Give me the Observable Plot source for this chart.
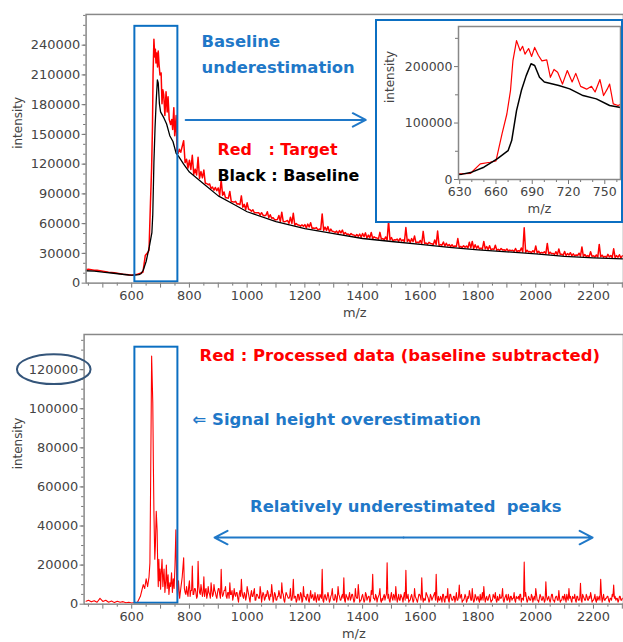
<!DOCTYPE html>
<html><head><meta charset="utf-8">
<script src="https://cdn.jsdelivr.net/npm/d3@7"></script>
<script src="https://cdn.jsdelivr.net/npm/@observablehq/plot@0.6"></script>
<style>
body{margin:0;background:#fff;}
#wrap{position:relative;width:623px;height:642px;overflow:hidden;background:#fff;}
.part{position:absolute;}
#inset{position:absolute;left:375px;top:19px;width:244px;height:200px;border:2px solid #0b6fc2;background:#fff;}
</style></head><body><div id="wrap"></div>
<script>
// ---------- DATA (intensities in thousands) ----------
const baselineMz = [442,470,500,530,560,590,610,625,632,640,650,661,670,673,677,681,685,689,692,696,700,712,721,732,743,754,762,780,800,850,900,950,1000,1100,1200,1300,1400,1500,1600,1700,1800,1900,2000,2100,2200,2304];
const baselineK = [12.5,12,11,10.2,9.2,8.2,8,8.5,9.5,13,21.8,36.5,51,69,122,157.5,184,205,202,181,172.7,166.4,160.5,148.7,142.8,131,128,120,112,100,88,80,72,62,55,50,45,42,39,36,33.5,31.5,29.5,27,25.5,24.4];

const targetPeakMz = [442,450,460,470,480,490,500,510,520,530,540,550,560,570,580,590,600,610,620,630,639,647,655,660,665,669,672,674,677,680,682,684,687,689.5,692,695,698,702,705,708,711,715,719,723,726,730,735,739,742,746,749,752,754,757,761,765,770];
const targetPeakK = [13.5,14,13.5,13,13,12.5,12,11.5,11,10.8,10.5,10,9.5,9,8.8,8.5,8,8.5,9,10,11,27.8,30.6,33,80.9,116,157.5,210,246,228,236,222,232,218,234,220,210,212,181,195,190,169,193,172.7,188,165,160,165,155,177,148.7,160,169,134,131,135,132];
// target at 780, 790, ... 2300
const targetTailK = [
 143.7,125,124,129,115,127,112.5,114,100.5,100,
 97,96.5,96,104.3,92,86,92.5,82,82.5,80,
 88,79.5,81,74,74,71,71,71,68,72,
 69,66,64,68.3,71.6,61.9,63.2,66.5,70.5,60.1,
 58.4,58.7,59,59.5,61,55.5,56,54.5,69.8,56.5,
 57,54.5,52,52.5,53,53.5,51,49.5,50,48.5,
 49,49.5,50,50.7,48.4,51.1,46.8,45.5,51.2,44.9,
 46.6,62.5,46,43.7,44.4,45.1,43.8,56,44.2,44.9,
 47.6,41.3,43,52.2,40.4,41.1,39.8,43.5,52.5,38.9,
 41.5,40.2,39,38.7,37.5,45,37,37.7,37.5,41.2,
 42,38.7,37.5,35.3,42.1,36.9,37.7,34.5,38.3,34.1,
 34.9,33.7,34.5,33.3,33.1,34.9,32.7,35.5,55.8,33.1,
 31.9,32.7,37.5,32.2,31,31.7,40,31.2,30,31.7,
 34.5,29.2,32,29.8,30.7,29.5,28.4,30.2,36.5,28.9,
 27.8,31.6,27.5,28.4,39,28.2,27.1,29,27.9,34.6,
 27.7,28.6,27.5];
// target at 785, 795, ... 2295
const targetTailMidK = [
 121.5,116,114.7,109.7,109,105.7,106.2,100.7,99.2,95.5,
 93.7,93.2,88.7,88.7,86,85.7,82.2,81.7,79.7,79.2,
 76.5,74.2,74.5,72.5,71,71,68.5,68.5,68.5,66,
 65.5,64,64.1,62,62.2,62.5,60.3,60.2,58.5,58.8,
 57.5,57.4,55.7,56.7,55.2,55.2,53.7,54.2,53.2,53.2,
 51.7,52.2,51.2,50.2,50.7,49.2,49.2,48.2,48.7,47.2,
 47.2,46.2,46.8,45.5,45.7,45,45.7,44.4,44.5,43.7,
 43.4,43.6,42.8,43.5,42.2,42.5,41.7,41.9,41.1,41.8,
 40.5,40.7,39.9,40.1,39.3,40,38.7,38.9,38.1,38.2,
 37.4,37.6,36.9,36.6,36.9,36.1,35.9,36.1,35.4,35.6,
 34.9,35.1,34.4,34.2,34.5,33.8,33.6,33.9,33.2,33,
 33.3,32.6,32.4,32.7,32,31.8,32.1,31.4,31.2,31.5,
 30.8,31.1,30.4,30.1,30.4,29.6,29.4,29.6,28.9,28.6,
 28.9,28.1,27.9,28.3,27.6,27.5,27.8,27.2,27,26.9,
 26.7,27.1,26.4,26.3,26.7,26.1,26,26.4,25.8,25.7,
 26.1,25.5];

const processedPeakMz = [442,450,460,470,480,490,500,510,520,530,540,550,560,570,580,590,600,610,620,630,635,640,645,650,655,660,663,665,667,669,671,673,675,677,680,682,685,688,690,692,694,696,698,700,702,705,708,710,712,715,718,720,723,726,729,732,735,738,741,744,747,750,753,756,759,762,766,770,775];
const processedPeakK = [1.5,2,1.2,1.8,1,3,1.4,2,1,1.6,0.8,1.5,1,1.3,0.7,1,0.6,0.8,1,4,7,10,8,13,9,14,21,53,89,127,115,103,72,46.6,23,30,47.5,38,20,9,23,12,18,7.6,15,23,9,14,18,6,12,20,8,15,5,11,9,16,6,13,8,20,38,10,4,12,3,8,14];
// processed at 780, 785, ... 2300
const processedTailK = [
 23.7,6,9,4,12,7,19.5,5,8,3,22,6,10,4,14,7,3,9,5,11,
 4,10,6,3,8,5,17.8,4,7,9,3,6,11,5,2,8,4,6,1,7,
 12.7,4,6,2,9,5,1,7,4,8,2,5,3,9,1,6,2,5,7,3,
 5,10,1,6,2,4,7,3,11,5,1,6,4,3,8,2,12.7,4,1,5,
 2,6,1,9,4,2,5,1,7,4,2,6,1,5,2,4,17.8,1,5,2,
 6,1,4,8,2,5,1,9,4,2,5,13.5,1,4,2,6,3,5,1,8,
 3,10,1,2,5,1,6,2,4,1,7,15.3,3,5,1,4,8,1,2,5,
 4,21.2,5,1,6,2,4,9,1,5,2,4,1,6,17.3,3,1,2,5,1,
 8,3,1,5,4,13.5,1,2,6,4,1,5,2,4,6,15.3,1,2,4,1,
 5,1,4,8,1,5,2,4,1,6,2,9.8,4,1,2,5,1,4,7,2,
 8,1,5,2,4,1,2,6,9,1,4,2,5,1,2,4,6,1,2,5,
 3,8,1,4,2,5,1,4,3,6,1,3,4,5,1,3,21.5,6,1,4,
 2,5,1,4,8,2,1,5,2,4,1,11.4,2,4,1,5,2,1,4,2,
 7,1,2,4,5,1,3,8,4,1,3,5,1,4,2,10.7,1,4,2,5,
 2,4,6,1,2,5,1,2,4,12.7,1,5,2,3,4,1,3,5,9.8,4,
 3,1,4,2,3];
// processed at 782.5, 787.5, ... 2297.5
const processedTailMidK = [
 8,5,6,9,4,7,5,8,6,4,9,5,7,6,4,8,5,6,3,7,
 5,7,4,6,8,3,6,5,7,4,6,3,5,7,4,5,6,3,5,4,
 6,3,5,4,7,3,5,4,6,2,5,4,3,6,4,5,3,4,6,2,
 4,6,3,5,2,4,5,3,6,2,4,5,3,4,2,5,3,4,2,5,
 3,5,2,4,3,5,2,4,3,5,2,3,4,2,5,3,2,4,3,4,
 4,2,5,3,2,4,3,5,2,4,3,2,5,3,4,2,5,3,2,4,
 3,5,2,4,3,2,5,3,4,2,5,3,2,4,3,5,2,3,4,2,
 5,3,2,4,3,5,2,4,3,2,5,3,4,2,3,5,2,4,3,2,
 4,2,3,5,2,4,3,2,5,3,2,4,3,5,2,3,4,2,3,5,
 2,4,3,2,5,3,2,4,3,2,4,3,5,2,3,4,2,3,5,2,
 3,2,4,3,2,5,3,2,4,3,2,4,3,2,5,3,2,4,2,3,
 4,2,3,5,2,3,4,2,3,2,4,3,2,5,3,2,4,3,2,3,
 2,4,3,2,5,2,3,4,2,3,2,4,3,2,3,5,2,3,4,2,
 3,2,4,2,3,5,2,3,2,4,3,2,4,2,3,2,5,3,2,4,
 2,3,4,2,3,2,4,3,2,5,3,2,3,4,2,3,2,4,3,2,
 3,2,4,2];

// tick labels
const xTickLabels = d3.range(600, 2201, 200);
const yTopTickLabels = d3.range(0, 240001, 30000);
const yBottomTickLabels = d3.range(0, 120001, 20000);
const insetXTickLabels = [630, 660, 690, 720, 750];
const insetYTickLabels = [0, 100000, 200000];

// ---------- annotation layout (data units) ----------
const zoomBoxMz = [611, 760];
const zoomBoxTopInt = [1300, 259000];
const zoomBoxBottomInt = [500, 131500];

const rows = (mz, k) => mz.map((m, i) => ({mz: m, v: k[i] * 1000}));
const byMz = (a, b) => a.mz - b.mz;
const baseline = rows(baselineMz, baselineK);
const target = rows(targetPeakMz, targetPeakK)
  .concat(rows(d3.range(780, 2301, 10), targetTailK), rows(d3.range(785, 2296, 10), targetTailMidK))
  .sort(byMz);
const processed = rows(processedPeakMz, processedPeakK)
  .concat(rows(d3.range(780, 2301, 5), processedTailK), rows(d3.range(782.5, 2298, 5), processedTailMidK))
  .sort(byMz);

const FONT = "DejaVu Sans";
const BLUE = "#1f78c8";
const BOX = "#0b6fc2";
const AX = "#777";
const svgStyle = `font-family:'${FONT}';font-size:13px;color:#444;white-space:pre;background:transparent;`;
const fmt = d => String(d);
const blank = () => "";

const wrap = document.getElementById("wrap");
function place(node, left, topPx) {
  const d = document.createElement("div");
  d.className = "part"; d.style.left = left + "px"; d.style.top = topPx + "px";
  d.appendChild(node); wrap.appendChild(d); return d;
}

function xAxes() {
  return [
    Plot.axisX({ticks: d3.range(500, 2301, 100), tickSize: 5, tickPadding: 3, tickFormat: d => xTickLabels.includes(d) ? fmt(d) : "", label: null, stroke: AX, fontSize: 13}),
    Plot.axisX({ticks: d3.range(450, 2301, 100), tickSize: 3, tickFormat: blank, label: null, stroke: AX})
  ];
}
function textMark(t, mz, v, fill, size = 16.5) {
  return Plot.text([t], {x: () => mz, y: () => v, text: d => d, fill, fontFamily: FONT, fontWeight: "bold", fontSize: size, textAnchor: "start", lineAnchor: "middle"});
}

// ---------- TOP ----------
const topPlot = Plot.plot({
  width: 626, height: 330, marginLeft: 86, marginRight: 0, marginTop: 14, marginBottom: 46,
  x: {domain: [442, 2304]}, y: {domain: [0, 271000]},
  style: svgStyle,
  marks: [
    Plot.line(target, {x: "mz", y: "v", stroke: "#ff0000", strokeWidth: 1.5, clip: true}),
    Plot.line(baseline, {x: "mz", y: "v", stroke: "#000", strokeWidth: 1.3, clip: true}),
    Plot.rect([0], {x1: () => zoomBoxMz[0], x2: () => zoomBoxMz[1], y1: () => zoomBoxTopInt[0], y2: () => zoomBoxTopInt[1], fill: "none", stroke: BOX, strokeWidth: 2}),
    Plot.arrow([0], {x1: () => 787, y1: () => 164600, x2: () => 1411, y2: () => 164600, stroke: BLUE, strokeWidth: 2, headLength: 11, headAngle: 55}),
    textMark("Baseline", 842, 243200, BLUE),
    textMark("underestimation", 842, 217100, BLUE),
    textMark("Red   : Target", 897, 134600, "#ff0000", 16),
    textMark("Black : Baseline", 897, 107800, "#000", 16),
    ...xAxes(),
    Plot.axisY({ticks: yTopTickLabels, tickSize: 4, tickPadding: 2, tickFormat: fmt, label: null, stroke: AX, fontSize: 13}),
    Plot.axisY({ticks: d3.range(10000, 270001, 10000), tickSize: 2.5, tickFormat: blank, label: null, stroke: AX}),
    Plot.text(["m/z"], {frameAnchor: "bottom", dy: 34, text: d => d, fontSize: 13, fill: "#444"}),
    Plot.text(["intensity"], {frameAnchor: "left", dx: -68, rotate: -90, text: d => d, fontSize: 12, fill: "#444"}),
    Plot.frame({stroke: "#888", strokeWidth: 1.5})
  ]
});
place(topPlot, 0, 0);

// ---------- BOTTOM ----------
function ellipseAround(value) {
  return (index, scales, values, dims) => {
    const e = document.createElementNS("http://www.w3.org/2000/svg", "ellipse");
    e.setAttribute("cx", dims.marginLeft - 30);
    e.setAttribute("cy", scales.y(value));
    e.setAttribute("rx", 37); e.setAttribute("ry", 15);
    e.setAttribute("fill", "none"); e.setAttribute("stroke", "#34557a"); e.setAttribute("stroke-width", 2);
    return e;
  };
}
const bottomPlot = Plot.plot({
  width: 626, height: 312, marginLeft: 84, marginRight: 0, marginTop: 4, marginBottom: 37,
  x: {domain: [435, 2304]}, y: {domain: [0, 138000]},
  style: svgStyle,
  marks: [
    Plot.line(processed, {x: "mz", y: "v", stroke: "#ff0000", strokeWidth: 1.1, clip: true}),
    Plot.rect([0], {x1: () => zoomBoxMz[0], x2: () => zoomBoxMz[1], y1: () => zoomBoxBottomInt[0], y2: () => zoomBoxBottomInt[1], fill: "none", stroke: BOX, strokeWidth: 2}),
    Plot.arrow([0], {x1: () => 1542, y1: () => 34100, x2: () => 2197, y2: () => 34100, stroke: BLUE, strokeWidth: 2, headLength: 11, headAngle: 55}),
    Plot.arrow([0], {x1: () => 1542, y1: () => 34100, x2: () => 887, y2: () => 34100, stroke: BLUE, strokeWidth: 2, headLength: 11, headAngle: 55}),
    textMark("Red : Processed data (baseline subtracted)", 835, 127300, "#ff0000"),
    textMark("⇐ Signal height overestimation", 811, 94200, BLUE),
    textMark("Relatively underestimated  peaks", 1010, 50000, BLUE),
    ...xAxes(),
    Plot.axisY({ticks: yBottomTickLabels, tickSize: 4, tickPadding: 2, tickFormat: fmt, label: null, stroke: AX, fontSize: 13}),
    Plot.axisY({ticks: d3.range(5000, 135001, 5000), tickSize: 2.5, tickFormat: blank, label: null, stroke: AX}),
    Plot.text(["m/z"], {frameAnchor: "bottom", dy: 34, text: d => d, fontSize: 13, fill: "#444"}),
    Plot.text(["intensity"], {frameAnchor: "left", dx: -66, rotate: -90, text: d => d, fontSize: 12, fill: "#444"}),
    Plot.frame({stroke: "#888", strokeWidth: 1.5}),
    ellipseAround(120000)
  ]
});
place(bottomPlot, 0, 330);

// ---------- INSET ----------
const insetBox = document.createElement("div");
insetBox.id = "inset";
const insetPlot = Plot.plot({
  width: 244, height: 200, marginLeft: 81, marginRight: 1, marginTop: 5, marginBottom: 42,
  x: {domain: [629, 763]}, y: {domain: [0, 271000]},
  style: svgStyle + "font-size:12.5px;",
  marks: [
    Plot.line(target, {x: "mz", y: "v", stroke: "#ff0000", strokeWidth: 1.2, clip: true}),
    Plot.line(baseline, {x: "mz", y: "v", stroke: "#000", strokeWidth: 1.5, clip: true}),
    Plot.axisX({ticks: insetXTickLabels, tickSize: 5, tickPadding: 3, tickFormat: fmt, label: null, stroke: AX}),
    Plot.axisX({ticks: d3.range(640, 761, 10).filter(d => !insetXTickLabels.includes(d)), tickSize: 3, tickFormat: blank, label: null, stroke: AX}),
    Plot.axisY({ticks: insetYTickLabels, tickSize: 4, tickPadding: 2, tickFormat: fmt, label: null, stroke: AX}),
    Plot.axisY({ticks: [50000, 150000, 250000], tickSize: 3, tickFormat: blank, label: null, stroke: AX}),
    Plot.text(["m/z"], {frameAnchor: "bottom", dy: 33, text: d => d, fontSize: 13, fill: "#444"}),
    Plot.text(["intensity"], {frameAnchor: "left", dx: -68, rotate: -90, text: d => d, fontSize: 12, fill: "#444"}),
    Plot.frame({stroke: "#888", strokeWidth: 1.5})
  ]
});
insetBox.appendChild(insetPlot);
wrap.appendChild(insetBox);
</script></body></html>
